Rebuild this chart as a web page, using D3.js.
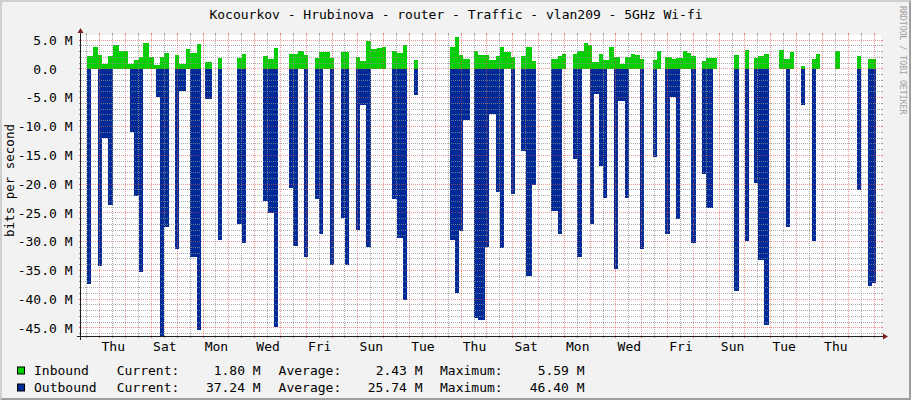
<!DOCTYPE html>
<html>
<head>
<meta charset="utf-8">
<script src="https://cdnjs.cloudflare.com/ajax/libs/d3/7.8.5/d3.min.js"></script>
<style>
  body { margin: 0; background: #f2f2f2; }
  svg text { font-family: "DejaVu Sans Mono", monospace; }
</style>
</head>
<body>
<div id="graph"></div>
<script>

// texts
var chartTitle = "Kocourkov - Hrubinova - router - Traffic - vlan209 - 5GHz Wi-fi";
var yTitle = "bits per second";
var watermark = "RRDTOOL / TOBI OETIKER";

// legend
var seriesNames = ["Inbound", "Outbound"];
var seriesColors = ["#00cf00", "#002a97"];
var statLabels = ["Current:", "Average:", "Maximum:"];
var currentVals = [1.80, 37.24];
var averageVals = [2.43, 25.74];
var maximumVals = [5.59, 46.40];

// y tick labels (M bits/s)
var yTickValues = [5, 0, -5, -10, -15, -20, -25, -30, -35, -40, -45];

// 2-hour samples, first one starts Wed 2020-01-01 00:00, one row per day (Mbit/s)
var inbound = [
  null,null,null,null,null,null,2.2,2.2,2.2,3.8,3.8,2.5,          // Wed
  2.5,0.9,0.9,0.9,2.2,2.2,4.1,4.1,4.1,3.1,3.1,3.1,                // Thu
  3.1,0.9,0.9,0.9,1.5,1.5,2.1,2.1,4.5,4.5,4.5,2.1,                // Fri
  2.1,0.75,0.75,0.75,2.0,2.0,2.8,2.8,null,null,null,2.5,          // Sat
  2.5,0.9,0.9,0.9,3.5,3.5,2.8,2.8,2.8,4.3,4.3,null,               // Sun
  null,1.2,1.2,1.2,null,null,null,1.9,1.9,null,null,null,         // Mon
  null,null,null,null,1.9,1.9,2.6,2.6,null,null,null,null,        // Tue
  null,null,null,null,2.2,2.2,1.7,1.7,1.7,3.6,3.6,null,           // Wed
  null,null,null,null,2.6,2.6,2.6,2.6,3.1,3.1,3.1,2.5,            // Thu
  2.5,null,null,null,1.9,1.9,2.95,2.95,2.95,2.95,2.95,1.9,        // Fri
  1.9,null,null,null,2.95,2.95,2.95,2.95,null,null,null,2.1,      // Sat
  2.1,1.45,1.45,1.45,4.9,4.9,3.5,3.5,3.5,3.6,3.6,3.8,             // Sun
  3.8,null,null,null,3.2,3.2,2.8,2.8,2.8,4.1,4.1,null,            // Mon
  null,null,1.5,1.5,null,null,null,null,null,null,null,null,      // Tue
  null,null,null,null,null,null,null,3.9,3.9,5.59,5.59,2.4,       // Wed
  2.4,1.7,1.7,1.7,null,null,3.1,3.1,2.4,2.4,2.4,2.4,              // Thu
  2.4,1.5,1.5,1.5,2.2,2.2,3.8,3.8,2.95,2.95,2.95,2.1,             // Fri
  2.1,null,null,null,2.2,2.2,3.9,3.9,3.9,1.3,1.3,null,            // Sat
  null,null,null,null,null,null,1.7,1.7,1.7,2.2,2.2,2.6,          // Sun
  2.6,null,null,null,2.6,2.6,3.1,3.1,3.1,4.5,4.5,4.2,             // Mon
  4.2,1.15,1.15,1.15,2.6,2.6,1.6,1.6,1.6,3.8,3.8,2.1,             // Tue
  2.1,2.1,0.9,0.9,2.1,2.1,2.1,2.6,2.6,2.5,2.5,1.7,                // Wed
  1.7,null,null,null,null,1.5,1.5,3.1,3.1,null,null,2.1,          // Thu
  2.1,2.1,1.8,1.8,1.9,1.9,1.9,3.1,3.1,2.7,2.7,2.2,                // Fri
  2.2,null,null,null,1.3,1.3,1.9,1.9,1.9,1.9,1.9,null,            // Sat
  null,null,null,null,null,null,null,2.4,2.4,null,null,null,      // Sun
  3.25,3.25,null,null,1.9,1.9,2.2,2.2,2.2,2.6,2.6,null,           // Mon
  null,null,null,null,3.25,3.25,1.7,1.7,1.7,2.95,2.95,null,       // Tue
  null,null,0.6,0.6,null,null,null,1.7,1.7,2.6,2.6,null,          // Wed
  null,null,null,null,null,null,3.1,3.1,null,null,null,null,      // Thu
  null,null,null,null,2.2,2.2,null,null,null,1.7,1.7,1.8,         // Fri
  1.8                                                             // Sat
];

var outbound = [
  null,null,null,null,null,null,37.3,37.3,0,0,0,34.3,
  34.3,12.0,12.0,12.0,23.7,23.7,0,0,0,0,0,0,
  0,0,11.0,11.0,22.0,22.0,35.2,35.2,0,0,0,0,
  0,0,4.9,4.9,46.4,46.4,27.4,27.4,null,null,null,31.2,
  31.2,3.8,3.8,3.8,0,0,32.6,32.6,32.6,45.3,45.3,null,
  null,5.2,5.2,5.2,null,null,null,29.8,29.8,null,null,null,
  null,null,null,null,27.0,27.0,30.2,30.2,null,null,null,null,
  null,null,null,null,22.9,22.9,25.1,25.1,25.1,44.8,44.8,null,
  null,null,null,null,20.7,20.7,30.7,30.7,0,0,0,32.6,
  32.6,null,null,null,22.6,22.6,28.6,28.6,0,0,0,34.0,
  34.0,null,null,null,25.9,25.9,34.0,34.0,null,null,null,27.9,
  27.9,6.2,6.2,6.2,30.9,30.9,0,0,0,0,0,0,
  0,null,null,null,22.6,22.6,29.3,29.3,29.3,40.2,40.2,null,
  null,null,4.5,4.5,null,null,null,null,null,null,null,null,
  null,null,null,null,null,null,null,29.8,29.8,38.9,38.9,28.2,
  28.2,8.8,8.8,8.8,null,null,43.2,43.2,43.7,43.7,43.7,30.9,
  30.9,7.8,7.8,7.8,21.4,21.4,31.1,31.1,0,0,0,21.8,
  21.8,null,null,null,14.3,14.3,35.9,35.9,35.9,20.2,20.2,null,
  null,null,null,null,null,null,24.6,24.6,24.6,28.6,28.6,0,
  0,null,null,null,15.7,15.7,32.6,32.6,0,0,0,0,
  27.0,27.0,4.3,4.3,16.9,16.9,22.5,22.5,0,0,0,34.7,
  34.7,5.5,5.5,5.5,22.4,22.4,0,0,0,0,0,31.2,
  31.2,null,null,null,null,15.3,15.3,0,0,null,null,28.6,
  28.6,4.9,4.9,4.9,26.0,26.0,0,0,0,0,0,30.2,
  30.2,null,null,null,18.3,18.3,24.1,24.1,24.1,0,0,null,
  null,null,null,null,null,null,null,38.5,38.5,null,null,null,
  29.9,29.9,null,null,19.8,19.8,33.2,33.2,33.2,44.5,44.5,null,
  null,null,null,null,0,0,0,27.5,27.5,0,0,null,
  null,null,6.2,6.2,null,null,null,29.9,29.9,0,0,null,
  null,null,null,null,null,null,0,0,null,null,null,null,
  null,null,null,null,21.1,21.1,null,null,null,37.7,37.7,37.24,
  37.24
];

var HOUR = 3600 * 1000;
var firstSample = Date.UTC(2020, 0, 1);
var startTime = new Date(Date.UTC(2020, 0, 1, 6, 30));
var endTime = new Date(Date.UTC(2020, 1, 1, 6, 30));

var margin = {top: 35, right: 30, bottom: 64, left: 81};
var width = 800, height = 301;

var svg = d3.select("#graph").append("svg")
    .attr("width", 911)
    .attr("height", 400);

// background + 3d frame like rrdtool
svg.append("rect").attr("width", 911).attr("height", 400).attr("fill", "#f2f2f2");
svg.append("polygon").attr("points", "0,400 2,398 2,2 909,2 911,0 0,0").attr("fill", "#cfcfcf");
svg.append("polygon").attr("points", "2,398 909,398 909,2 911,0 911,400 0,400").attr("fill", "#9e9e9e");

var g = svg.append("g")
    .attr("transform", "translate(" + margin.left + "," + margin.top + ")");

g.append("rect").attr("width", width).attr("height", height).attr("fill", "#ffffff");

var x = d3.scaleUtc().domain([startTime, endTime]).range([0, width]);
var y = d3.scaleLinear().domain([-46.4, 5.9]).range([height, 0]);

g.append("clipPath").attr("id", "clip")
  .append("rect").attr("width", width).attr("height", height);

// turn sample list into step points, closing every run at the end of its last sample
function stepPoints(values, sign){
    var pts = [];
    values.forEach(function(v, i){
        if (v == null) { pts.push(null); return; }
        pts.push({t: new Date(firstSample + i * 2 * HOUR), v: sign * v});
        if (i == values.length - 1 || values[i + 1] == null)
            pts.push({t: new Date(firstSample + (i + 1) * 2 * HOUR), v: sign * v});
    });
    return pts;
}

var area = d3.area()
    .defined(function(d){ return d != null; })
    .x(function(d){ return x(d.t); })
    .y0(y(0))
    .y1(function(d){ return y(d.v); })
    .curve(d3.curveStepAfter);

var plot = g.append("g").attr("clip-path", "url(#clip)");
plot.append("path").datum(stepPoints(outbound, -1))
    .attr("d", area).attr("fill", seriesColors[1]).attr("shape-rendering", "crispEdges");
plot.append("path").datum(stepPoints(inbound, 1))
    .attr("d", area).attr("fill", seriesColors[0]).attr("shape-rendering", "crispEdges");

// grid drawn on top of the data, dotted with solid 2px stubs at the ends
var gridMinor = "rgba(143,143,143,0.75)", gridMajor = "rgba(222,79,79,0.6)";
var grid = g.append("g").attr("stroke-width", 1).attr("shape-rendering", "crispEdges");

function hGrid(v, col){
    var yy = Math.floor(y(v)) + 0.5;
    grid.append("line").attr("x1", -2).attr("x2", width + 2).attr("y1", yy).attr("y2", yy)
        .attr("stroke", col).attr("stroke-dasharray", "1,1");
    grid.append("line").attr("x1", -2).attr("x2", 0).attr("y1", yy).attr("y2", yy).attr("stroke", col);
    grid.append("line").attr("x1", width).attr("x2", width + 2).attr("y1", yy).attr("y2", yy).attr("stroke", col);
}
function vGrid(t, col){
    var xx = Math.floor(x(t)) + 0.5;
    grid.append("line").attr("x1", xx).attr("x2", xx).attr("y1", -2).attr("y2", height + 2)
        .attr("stroke", col).attr("stroke-dasharray", "1,1");
    grid.append("line").attr("x1", xx).attr("x2", xx).attr("y1", -2).attr("y2", 0).attr("stroke", col);
    grid.append("line").attr("x1", xx).attr("x2", xx).attr("y1", height).attr("y2", height + 2).attr("stroke", col);
}

d3.range(-46, 6).forEach(function(v){ if (v % 5 != 0) hGrid(v, gridMinor); });
d3.utcHour.every(12).range(startTime, endTime).forEach(function(t){
    if (t.getUTCHours() == 12) vGrid(t, gridMinor);
});
yTickValues.forEach(function(v){ hGrid(v, gridMajor); });
d3.utcDay.range(startTime, endTime).forEach(function(t){ vGrid(t, gridMajor); });

// axes + arrows
var axisCol = "#1f1f1f", arrowCol = "#801f1f";
g.append("line").attr("x1", -4).attr("x2", width + 4).attr("y1", height + 0.5).attr("y2", height + 0.5)
    .attr("stroke", axisCol);
g.append("line").attr("x1", -0.5).attr("x2", -0.5).attr("y1", height + 4).attr("y2", -4)
    .attr("stroke", axisCol);
g.append("polygon").attr("points", [[width + 2, height - 2.5], [width + 2, height + 3.5], [width + 7, height + 0.5]].join(" "))
    .attr("fill", arrowCol);
g.append("polygon").attr("points", [[-3.5, -2], [2.5, -2], [-0.5, -7]].join(" "))
    .attr("fill", arrowCol);

// y labels
var yAxis = d3.axisLeft(y).tickValues(yTickValues).tickSize(0).tickPadding(8)
    .tickFormat(function(v){ return v == 0 ? "0.0\u00a0\u00a0" : v.toFixed(1) + " M"; });
var yg = g.append("g").attr("transform", "translate(-0.5,0)").call(yAxis);
yg.select(".domain").remove();
yg.attr("font-family", null).attr("font-size", 13);
yg.selectAll("text").attr("fill", "#000");

// day labels centred on noon, every 2nd day, only inside the graph
var labelNoons = d3.utcDay.range(new Date(Date.UTC(2020, 0, 2)), endTime)
    .filter(function(d, i){ return i % 2 == 0; })
    .map(function(d){ return d3.utcHour.offset(d, 12); })
    .filter(function(d){ return d < endTime; });
var xAxis = d3.axisBottom(x)
    .tickValues(labelNoons)
    .tickFormat(d3.utcFormat("%a")).tickSize(0).tickPadding(5);
var xg = g.append("g").attr("transform", "translate(0," + (height + 0.5) + ")").call(xAxis);
xg.select(".domain").remove();
xg.attr("font-family", null).attr("font-size", 13);
xg.selectAll("text").attr("fill", "#000");

// title, axis title, watermark
svg.append("text").attr("x", 456).attr("y", 19).attr("text-anchor", "middle")
    .attr("font-size", 13).text(chartTitle);
svg.append("text").attr("transform", "translate(14,180.5) rotate(-90)").attr("text-anchor", "middle")
    .attr("font-size", 12.5).text(yTitle);
svg.append("text").attr("transform", "translate(899.5,6) rotate(90)")
    .attr("font-size", 8.2).attr("fill", "#a0a0a0").text(watermark);

// legend
var statVals = [currentVals, averageVals, maximumVals];
var labelX = [116.7, 278.6, 440];
var valueEndX = [260.7, 422.6, 584.6];
var rowY = [375, 392];
seriesNames.forEach(function(name, r){
    svg.append("rect").attr("x", 17.5).attr("y", rowY[r] - 8).attr("width", 7).attr("height", 7)
        .attr("fill", seriesColors[r]).attr("stroke", "#000");
    svg.append("text").attr("x", 34).attr("y", rowY[r]).attr("font-size", 13).text(name);
    statLabels.forEach(function(lab, c){
        svg.append("text").attr("x", labelX[c]).attr("y", rowY[r]).attr("font-size", 13).text(lab);
        svg.append("text").attr("x", valueEndX[c]).attr("y", rowY[r]).attr("font-size", 13)
            .attr("text-anchor", "end").text(statVals[c][r].toFixed(2) + " M");
    });
});

</script>
</body>
</html>
